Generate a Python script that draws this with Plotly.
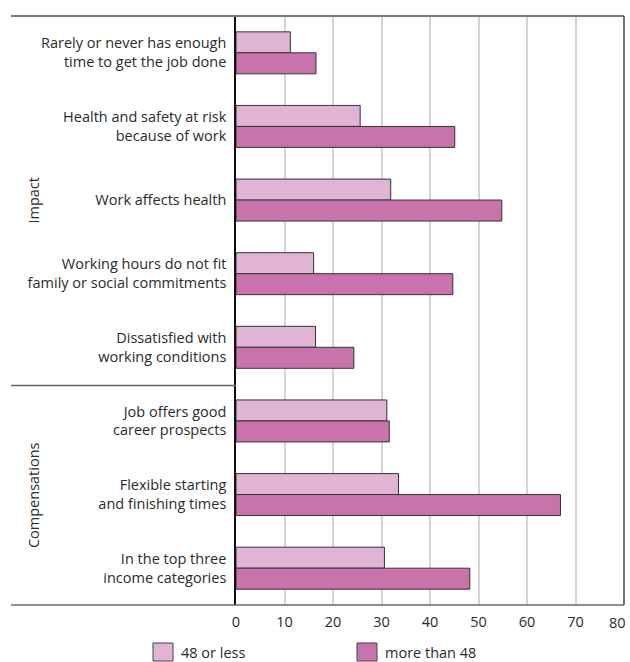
import plotly.graph_objects as go

categories = [
    "Rarely or never has enough<br>time to get the job done",
    "Health and safety at risk<br>because of work",
    "Work affects health",
    "Working hours do not fit<br>family or social commitments",
    "Dissatisfied with<br>working conditions",
    "Job offers good<br>career prospects",
    "Flexible starting<br>and finishing times",
    "In the top three<br>income categories",
]
series_names = ["48 or less", "more than 48"]
values_48_or_less = [11.2, 25.6, 31.9, 16.0, 16.4, 31.1, 33.5, 30.6]
values_more_than_48 = [16.5, 45.1, 54.8, 44.7, 24.3, 31.6, 66.9, 48.2]
group_names = ["Impact", "Compensations"]
x_ticks = [0, 10, 20, 30, 40, 50, 60, 70, 80]
x_tick_labels = ["0", "10", "20", "30", "40", "50", "60", "70", "80"]

light = "#E1B4D5"
dark = "#C973AD"
FONT = "Open Sans"
TXT = "#2b2b2b"

fig = go.Figure()
fig.add_trace(go.Bar(y=categories, x=values_48_or_less, orientation="h", name=series_names[0],
                     marker=dict(color=light, line=dict(color="#333333", width=1)), showlegend=False))
fig.add_trace(go.Bar(y=categories, x=values_more_than_48, orientation="h", name=series_names[1],
                     marker=dict(color=dark, line=dict(color="#333333", width=1)), showlegend=False))

W, H = 630, 662
L, R, T, B = 236, 6, 16, 57
pw = W - L - R
ph = H - T - B

def px(xpix):
    return (xpix - L) / pw

def py(ypix):
    return 1 - (ypix - T) / ph

# last tick label is drawn as an annotation so it can sit flush with the right edge
shown_labels = x_tick_labels[:-1] + [""]

fig.update_layout(
    width=W, height=H,
    margin=dict(l=L, r=R, t=T, b=B, pad=0, autoexpand=False),
    paper_bgcolor="white", plot_bgcolor="white",
    barmode="group", bargap=0.43, bargroupgap=0,
    font=dict(family=FONT, size=14.5, color=TXT),
    xaxis=dict(range=[0, 80], tickvals=x_ticks, ticktext=shown_labels,
               showgrid=True, gridcolor="#d4d4d4", gridwidth=1.5, zeroline=False,
               showline=False, ticks="", ticklabelstandoff=6, ticklabeloverflow="allow",
               automargin=False, tickfont=dict(size=14.5, color=TXT)),
    yaxis=dict(categoryorder="array", categoryarray=categories, autorange="reversed",
               showline=True, linecolor="#111111", linewidth=1.5, ticks="", automargin=False,
               ticklabelstandoff=5, tickfont=dict(size=14.5, color=TXT), showgrid=False),
)

fig.add_annotation(text=x_tick_labels[-1], xref="x", yref="paper", x=x_ticks[-1], y=py(622),
                   xanchor="right", yanchor="middle", xshift=4, showarrow=False,
                   font=dict(size=14.5, color=TXT))

# frame lines
fig.add_shape(type="line", xref="paper", yref="paper", x0=px(11), x1=1, y0=1, y1=1,
              line=dict(color="#7a7a7a", width=2))
fig.add_shape(type="line", xref="paper", yref="paper", x0=px(11), x1=1, y0=0, y1=0,
              line=dict(color="#6a6a6a", width=1.5))
fig.add_shape(type="line", xref="paper", yref="paper", x0=1, x1=1, y0=0, y1=1,
              line=dict(color="#444444", width=1.5))
fig.add_shape(type="line", xref="paper", yref="y", x0=px(11), x1=0, y0=4.52, y1=4.52,
              line=dict(color="#666666", width=1.5))

# group labels
fig.add_annotation(text=group_names[0], xref="paper", yref="y", x=px(22), y=2,
                   textangle=-90, showarrow=False, font=dict(size=14.5, color=TXT))
fig.add_annotation(text=group_names[1], xref="paper", yref="y", x=px(22), y=6,
                   textangle=-90, showarrow=False, font=dict(size=14.5, color=TXT))

# legend
for x0, col, name in [(153, light, series_names[0]), (357, dark, series_names[1])]:
    fig.add_shape(type="rect", xref="paper", yref="paper", x0=px(x0), x1=px(x0 + 20),
                  y0=py(661), y1=py(643), fillcolor=col, line=dict(color="#444444", width=1))
    fig.add_annotation(text=name, xref="paper", yref="paper", x=px(x0 + 26), y=py(652),
                       xanchor="left", yanchor="middle", showarrow=False,
                       font=dict(size=14.5, color=TXT))

fig.write_html(
    "out.html",
    config={"displayModeBar": False, "responsive": False},
    post_script="document.body.style.margin='0';document.body.style.padding='0';"
                "document.documentElement.style.overflow='hidden';",
)
